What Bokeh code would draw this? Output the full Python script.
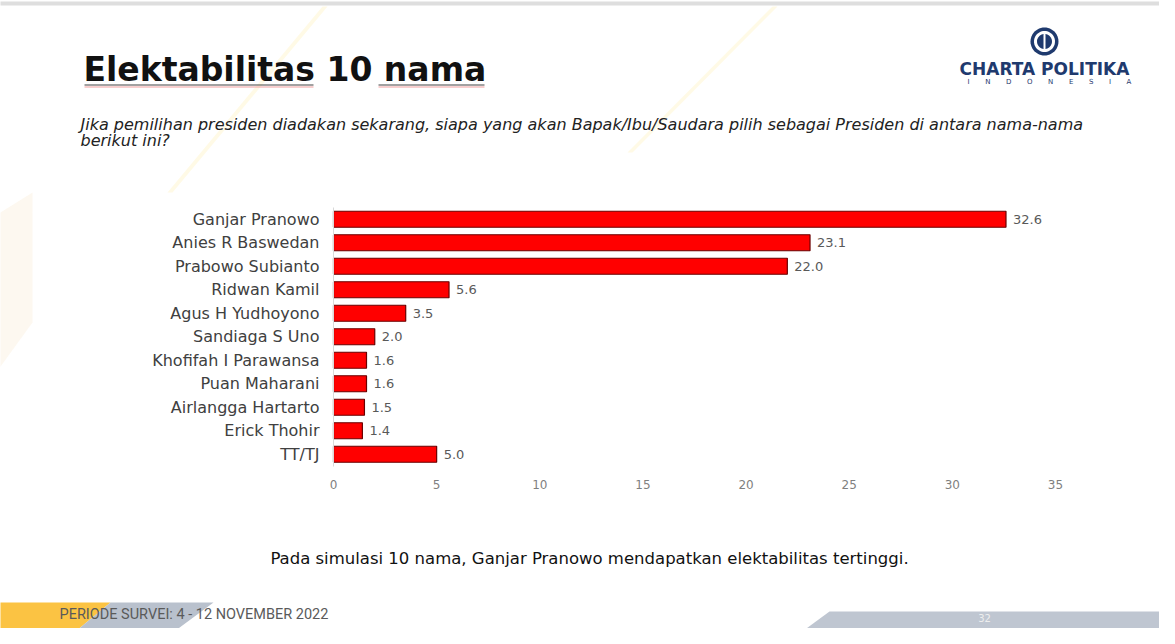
import numpy as np
from bokeh.plotting import figure
from bokeh.models import (Range1d, FixedTicker, Label, PolyAnnotation, LinearAxis,
                          ColumnDataSource)
from bokeh.core.properties import value
from bokeh.embed import file_html
from bokeh.resources import INLINE

# ---------------- data ----------------
names = ["Ganjar Pranowo", "Anies R Baswedan", "Prabowo Subianto", "Ridwan Kamil",
         "Agus H Yudhoyono", "Sandiaga S Uno", "Khofifah I Parawansa", "Puan Maharani",
         "Airlangga Hartarto", "Erick Thohir", "TT/TJ"]
values = [32.6, 23.1, 22.0, 5.6, 3.5, 2.0, 1.6, 1.6, 1.5, 1.4, 5.0]
x_ticks = [0, 5, 10, 15, 20, 25, 30, 35]

title_text = "Elektabilitas 10 nama"
question_1 = ("Jika pemilihan presiden diadakan sekarang, siapa yang akan Bapak/Ibu/Saudara "
              "pilih sebagai Presiden di antara nama-nama")
question_2 = "berikut ini?"
note_text = "Pada simulasi 10 nama, Ganjar Pranowo mendapatkan elektabilitas tertinggi."
footer_text = "PERIODE SURVEI: 4 - 12 NOVEMBER 2022"
page_text = "32"
logo_1 = "CHARTA POLITIKA"
logo_2 = ("\u00a0" * 7).join("INDONESIA")

# ---------------- layout (page pixels) ----------------
W, H = 1159, 628
PX0, PX35 = 341.0, 1063.0          # page x of value 0 and 35
KX = (PX35 - PX0) / 35.0
ROW0, ROWSTEP = 461.75, 23.5        # page y of bottom row centre, row pitch

n = len(names)
pos = [n - 1 - i for i in range(n)]  # first name on top

def X(px):
    return px - 8

def Y(py):
    return H - (py - 8)

x_start = (8 - PX0) / KX
x_end = (8 + W - PX0) / KX
y_start = (ROW0 - (8 + H)) / ROWSTEP
y_end = (ROW0 - 8) / ROWSTEP

src = ColumnDataSource(dict(pos=pos, name=names, val=values,
                            lab=[f"{v:.1f}" for v in values]))

p = figure(width=W, height=H, output_backend="svg", toolbar_location=None,
           x_range=Range1d(x_start, x_end), y_range=Range1d(y_start, y_end),
           x_axis_location=None, y_axis_location=None,
           min_border=0, min_border_left=0, min_border_right=0,
           min_border_top=0, min_border_bottom=0)
p.outline_line_color = None
p.background_fill_color = "white"
p.border_fill_color = "white"
p.xgrid.visible = False
p.ygrid.visible = False

# ---------------- background decorations ----------------
def poly(pts, color, alpha=1.0):
    xs = [X(a) for a, b in pts]
    ys = [Y(b) for a, b in pts]
    p.add_layout(PolyAnnotation(xs=xs, ys=ys, xs_units="screen", ys_units="screen",
                                fill_color=color, fill_alpha=alpha, line_color=None,
                                level="underlay"))

poly([(0, 9), (1175, 9), (1175, 13), (0, 13)], "#dedede")
poly([(0, 225), (40, 200), (40, 330), (0, 385)], "#FBF3E6", 0.6)
poly([(330, 14), (335, 14), (180, 200), (175, 200)], "#FFF6D6", 0.6)
poly([(780, 14), (785, 14), (640, 160), (635, 160)], "#FFF6D6", 0.6)
poly([(0, 610), (118, 610), (77, 644), (0, 644)], "#FBC343")
poly([(118, 610), (221, 610), (175, 644), (77, 644)], "#B9C1CD")
poly([(837, 619), (1175, 619), (1175, 644), (803, 644)], "#BFC6D1")

# title underlines
poly([(92, 92), (321, 92), (321, 93), (92, 93)], "#444444")
poly([(92, 94), (321, 94), (321, 95), (92, 95)], "#F2A0A0")
poly([(386, 92), (492, 92), (492, 93), (386, 93)], "#444444")
poly([(386, 94), (492, 94), (492, 95), (386, 95)], "#F2A0A0")

def circle_pts(cx, cy, r, k=48):
    t = np.linspace(0, 2 * np.pi, k, endpoint=False)
    return list(zip(cx + r * np.cos(t), cy + r * np.sin(t)))

navy = "#1F3A6E"
poly(circle_pts(1052, 49, 14), navy)
poly(circle_pts(1052, 49, 10.5), "white")
poly(circle_pts(1052, 49, 7.5), navy)
poly([(1051, 40), (1053, 40), (1053, 58), (1051, 58)], "white")

# ---------------- bars ----------------
p.hbar(y="pos", right="val", left=0, height=0.68, source=src,
       fill_color="#FF0000", line_color="#6a0000", line_width=1.2)
p.text(x="val", y="pos", text="lab", source=src, x_offset=7, text_baseline="middle",
       text_font=value("DejaVu Sans"), text_font_size="13px", text_color="#595959")

# ---------------- axes (fixed inside the full-canvas frame) ----------------
xa = LinearAxis(fixed_location=-0.5, ticker=FixedTicker(ticks=x_ticks))
xa.axis_line_color = None
xa.major_tick_line_color = None
xa.minor_tick_line_color = None
xa.major_label_standoff = 8
xa.major_label_text_font = "DejaVu Sans"
xa.major_label_text_font_size = "12px"
xa.major_label_text_color = "#7f7f7f"
p.add_layout(xa, "below")

ya = LinearAxis(fixed_location=0, ticker=FixedTicker(ticks=pos), bounds=(-0.5, n - 0.5),
                major_label_overrides={pp: nm for pp, nm in zip(pos, names)})
ya.axis_line_color = "#d9d9d9"
ya.major_tick_line_color = None
ya.minor_tick_line_color = None
ya.major_label_standoff = 8
ya.major_label_text_font = "DejaVu Sans"
ya.major_label_text_font_size = "16px"
ya.major_label_text_color = "#404040"
p.add_layout(ya, "left")

# ---------------- texts ----------------
def label(x, y, text, size, color, style="normal", font="DejaVu Sans", align="left"):
    p.add_layout(Label(x=X(x), y=Y(y), x_units="screen", y_units="screen", text=text,
                       text_font=font, text_font_size=size, text_color=color,
                       text_font_style=style, text_align=align,
                       text_baseline="middle"))

label(91, 77, title_text, "33px", "#111111", "bold")
label(88, 132, question_1, "16px", "#222222", "italic")
label(88, 148, question_2, "16px", "#222222", "italic")
label(597, 566, note_text, "16.5px", "#111111", align="center")
label(67, 622, footer_text, "14.5px", "#5a5a5a", font="Roboto")
label(992, 625, page_text, "10px", "#eeeeee", align="center")
label(1052, 76, logo_1, "17px", navy, "bold", align="center")
label(1057, 89, logo_2, "7px", navy, align="center")

open("out.html", "w").write(file_html(p, INLINE))
